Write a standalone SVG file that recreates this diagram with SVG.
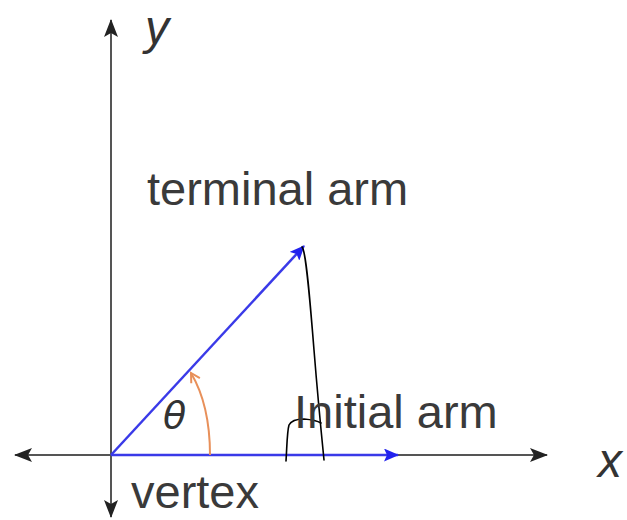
<svg xmlns="http://www.w3.org/2000/svg" width="627" height="520" viewBox="0 0 627 520">
<style>
.lbl{font-family:"Liberation Sans",Arial,sans-serif;font-size:47px;fill:#3a3a3a}
.it{font-family:"Liberation Sans",Arial,sans-serif;font-style:italic;fill:#333}
.axis{stroke:#555;stroke-width:2;fill:none}
.arm{stroke:#3a3ae8;stroke-width:2.5;fill:none}
.ink{stroke:#000;stroke-width:1.6;fill:none;stroke-linecap:round}
</style>
<defs>
<marker id="ah" markerWidth="18" markerHeight="16" refX="17" refY="8" orient="auto" markerUnits="userSpaceOnUse">
<path d="M0,1 L18,8 L0,15 L4,8 Z" fill="#222"/>
</marker>
<marker id="bh" markerWidth="15" markerHeight="13" refX="14" refY="6.5" orient="auto" markerUnits="userSpaceOnUse">
<path d="M0,0 L15,6.5 L0,13 L3,6.5 Z" fill="#2222ee"/>
</marker>
<marker id="oh" markerWidth="12" markerHeight="12" refX="10" refY="6" orient="auto" markerUnits="userSpaceOnUse">
<path d="M1,1 L10,6 L1,11" fill="none" stroke="#e8905a" stroke-width="2"/>
</marker>
</defs>
<rect width="627" height="520" fill="#fff"/>
<g id="connectors">
<line class="axis" x1="111" y1="455" x2="111" y2="20" marker-end="url(#ah)"/>
<line class="axis" x1="111" y1="455" x2="111" y2="517" marker-end="url(#ah)"/>
<line class="axis" x1="111" y1="455" x2="15" y2="455" marker-end="url(#ah)"/>
<line class="axis" x1="111" y1="455" x2="547" y2="455" marker-end="url(#ah)"/>
<line class="arm" x1="111" y1="455" x2="398" y2="455" marker-end="url(#bh)"/>
<line class="arm" x1="111" y1="455" x2="304" y2="246" marker-end="url(#bh)"/>
<path d="M210,455 C210,420 204,395 191,373" stroke="#e8905a" stroke-width="2" fill="none" marker-end="url(#oh)"/>
</g>
<g id="ink">
<path class="ink" d="M302,247 C306,250 310,300 314,350 C318,400 321,430 324,460"/>
<path class="ink" d="M286,461 C287,446 287,432 289,425 Q292,419 304,419 Q316,420 321,423"/>
</g>
<g id="labels">
<text class="it" x="145" y="44" font-size="48">y</text>
<text class="lbl" x="147" y="205">terminal arm</text>
<text class="lbl" x="294" y="428">Initial arm</text>
<text class="lbl" x="131" y="508">vertex</text>
<text class="it" x="598" y="477" font-size="48">x</text>
<text x="163" y="428" font-family="DejaVu Sans,sans-serif" font-style="italic" font-size="38" fill="#333">θ</text>
</g>
</svg>
